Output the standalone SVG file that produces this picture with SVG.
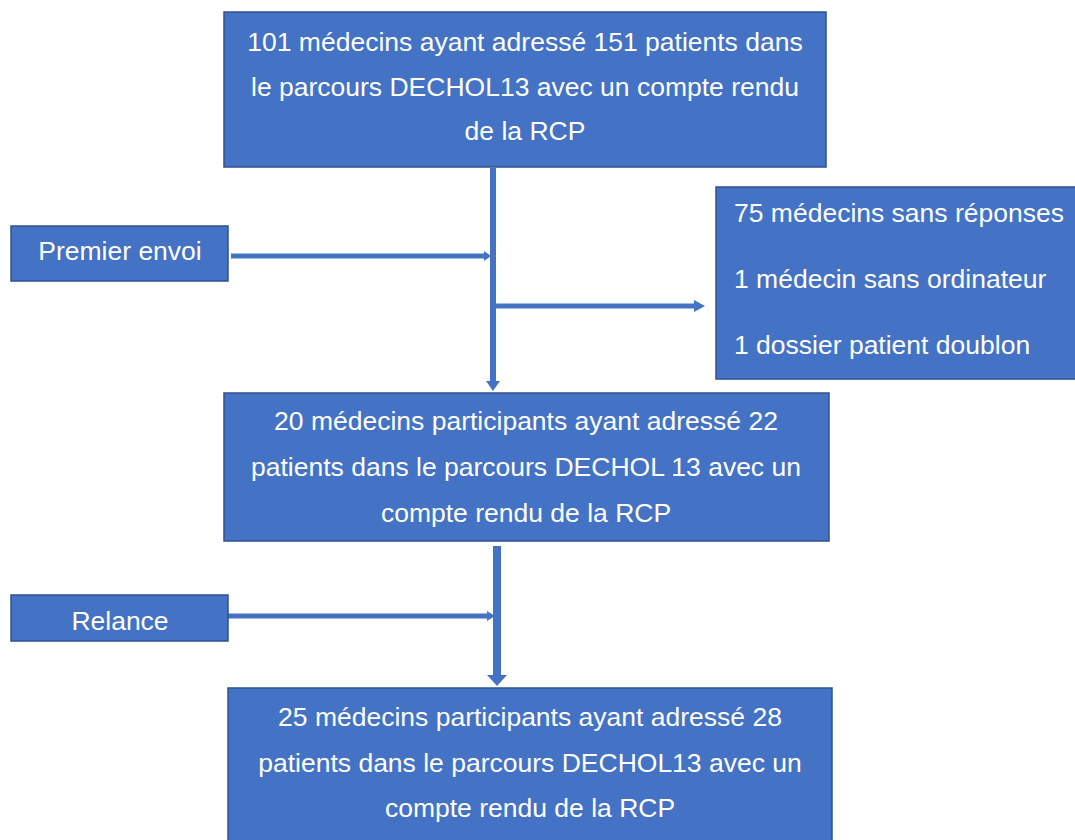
<svg xmlns="http://www.w3.org/2000/svg" width="1075" height="840" viewBox="0 0 1075 840">
<style>
.box{fill:#4472C4;stroke:#2F528F;stroke-width:1.5}
.t{font-family:"Liberation Sans",Arial,sans-serif;font-size:26.5px;fill:#ffffff}
.c{text-anchor:middle}
.ln{stroke:#4472C4;fill:none}
.ah{fill:#4472C4}
</style>
<rect width="1075" height="840" fill="#ffffff"/>
<g id="connectors">
<line class="ln" x1="493" y1="168" x2="493" y2="384" stroke-width="6"/>
<polygon class="ah" points="486,381 500,381 493,391"/>
<line class="ln" x1="231" y1="256" x2="485" y2="256" stroke-width="5"/>
<polygon class="ah" points="484,251 484,261 491,256"/>
<line class="ln" x1="496" y1="306" x2="696" y2="306" stroke-width="5"/>
<polygon class="ah" points="694,300 694,312 705,306"/>
<line class="ln" x1="497" y1="546" x2="497" y2="677" stroke-width="8"/>
<polygon class="ah" points="487,675 507,675 497,686"/>
<line class="ln" x1="228" y1="616" x2="488" y2="616" stroke-width="5"/>
<polygon class="ah" points="487,611 487,621 495,616"/>
</g>
<g id="node-start">
<rect class="box" x="224" y="12" width="602" height="155"/>
<text class="t c" x="525" y="51">101 médecins ayant adressé 151 patients dans</text>
<text class="t c" x="525" y="96">le parcours DECHOL13 avec un compte rendu</text>
<text class="t c" x="525" y="140">de la RCP</text>
</g>
<g id="node-premier-envoi">
<rect class="box" x="11" y="226" width="217" height="55"/>
<text class="t c" x="120" y="260">Premier envoi</text>
</g>
<g id="node-exclusions">
<rect class="box" x="716" y="187" width="362" height="192"/>
<text class="t" x="734" y="222">75 médecins sans réponses</text>
<text class="t" x="734" y="288">1 médecin sans ordinateur</text>
<text class="t" x="734" y="354">1 dossier patient doublon</text>
</g>
<g id="node-participants1">
<rect class="box" x="224" y="393" width="605" height="148"/>
<text class="t c" x="526" y="430">20 médecins participants ayant adressé 22</text>
<text class="t c" x="526" y="476">patients dans le parcours DECHOL 13 avec un</text>
<text class="t c" x="526" y="522">compte rendu de la RCP</text>
</g>
<g id="node-relance">
<rect class="box" x="11" y="595" width="217" height="46"/>
<text class="t c" x="120" y="630">Relance</text>
</g>
<g id="node-participants2">
<rect class="box" x="228" y="688" width="604" height="160"/>
<text class="t c" x="530" y="726">25 médecins participants ayant adressé 28</text>
<text class="t c" x="530" y="772">patients dans le parcours DECHOL13 avec un</text>
<text class="t c" x="530" y="817">compte rendu de la RCP</text>
</g>
</svg>
